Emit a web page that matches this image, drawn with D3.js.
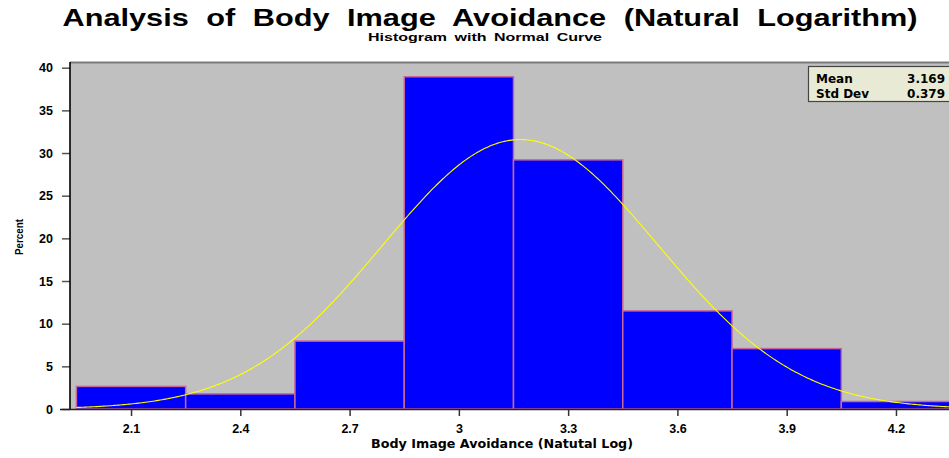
<!DOCTYPE html>
<html>
<head>
<meta charset="utf-8">
<script src="https://cdn.jsdelivr.net/npm/d3@7"></script>
<style>
  html, body { margin: 0; padding: 0; background: #fff; }
  svg { display: block; }
  text { font-family: "Liberation Sans", Arial, Helvetica, sans-serif; font-weight: bold; fill: #000; }
  .wide { font-family: "DejaVu Sans", "Liberation Sans", sans-serif; }
</style>
</head>
<body>
<svg id="chart" width="949" height="458"></svg>
<script>
// ---- data ----
const binMidpoints = [2.1, 2.4, 2.7, 3.0, 3.3, 3.6, 3.9, 4.2];
const binPercents  = [2.65, 1.77, 7.96, 38.94, 29.20, 11.50, 7.08, 0.88];
const xTickLabels  = ["2.1", "2.4", "2.7", "3", "3.3", "3.6", "3.9", "4.2"];
const yTickValues  = [0, 5, 10, 15, 20, 25, 30, 35, 40];
const statLabels   = ["Mean", "Std Dev"];
const statValues   = ["3.169", "0.379"];
const meanValue = 3.169;
const sdValue = 0.379;
const binWidth = 0.3;

const svg = d3.select("#chart");

// scales
const x = d3.scaleLinear().domain([1.95, 4.35]).range([76.4, 950.6]);
const y = d3.scaleLinear().domain([0, 40]).range([409, 67.7]);

const frameLeft = 70, frameTop = 62, frameRight = 960, frameBottom = 409;

// plot background
svg.append("rect")
  .attr("x", frameLeft).attr("y", frameTop)
  .attr("width", frameRight - frameLeft).attr("height", frameBottom - frameTop)
  .attr("fill", "#c0c0c0");

// top frame line
svg.append("line")
  .attr("x1", frameLeft).attr("x2", frameRight)
  .attr("y1", frameTop + 0.5).attr("y2", frameTop + 0.5)
  .attr("stroke", "#7a7a7a").attr("stroke-width", 2);

// bars
svg.append("g").selectAll("rect")
  .data(binMidpoints)
  .join("rect")
  .attr("x", (d) => x(d - binWidth / 2))
  .attr("width", (d) => x(d + binWidth / 2) - x(d - binWidth / 2))
  .attr("y", (d, i) => y(binPercents[i]))
  .attr("height", (d, i) => y(0) - y(binPercents[i]))
  .attr("fill", "#0000ff")
  .attr("stroke", "#c8689a")
  .attr("stroke-width", 1.5);

// normal curve
const curvePts = d3.range(1.95, 4.5, 0.005).map(v => {
  const z = (v - meanValue) / sdValue;
  const pct = 100 * binWidth * Math.exp(-0.5 * z * z) / (sdValue * Math.sqrt(2 * Math.PI));
  return [v, pct];
});
svg.append("path")
  .datum(curvePts)
  .attr("fill", "none")
  .attr("stroke", "#ffff00")
  .attr("stroke-width", 1.1)
  .attr("d", d3.line().x(d => x(d[0])).y(d => y(d[1])));

// y axis
const yAxis = d3.axisLeft(y).tickValues(yTickValues).tickSize(8).tickPadding(9).tickFormat(d3.format("d"));
const yg = svg.append("g").attr("transform", `translate(${frameLeft},0)`).call(yAxis);
yg.select(".domain").remove();
yg.selectAll(".tick line").attr("stroke", "#555").attr("stroke-width", 1.5);
yg.selectAll(".tick text").attr("font-size", 12.5).attr("font-weight", "bold")
  .attr("font-family", "DejaVu Sans, sans-serif").attr("fill", "#000");
svg.append("line")
  .attr("x1", frameLeft).attr("x2", frameLeft)
  .attr("y1", frameTop).attr("y2", frameBottom)
  .attr("stroke", "#000").attr("stroke-width", 1.6);

// x axis
const xAxis = d3.axisBottom(x).tickValues(binMidpoints).tickSize(7).tickPadding(8)
  .tickFormat((d, i) => xTickLabels[i]);
const xg = svg.append("g").attr("transform", `translate(0,${frameBottom})`).call(xAxis);
xg.select(".domain").remove();
xg.selectAll(".tick line").attr("stroke", "#333").attr("stroke-width", 1.5);
xg.selectAll(".tick text").attr("font-size", 12.5).attr("font-weight", "bold")
  .attr("font-family", "DejaVu Sans, sans-serif").attr("fill", "#000");
svg.append("line")
  .attr("x1", 60).attr("x2", 949)
  .attr("y1", frameBottom + 0.5).attr("y2", frameBottom + 0.5)
  .attr("stroke", "#222").attr("stroke-width", 1.6);

// axis titles
svg.append("text")
  .attr("class", "wide")
  .attr("x", 502).attr("y", 448)
  .attr("text-anchor", "middle").attr("font-size", 12)
  .attr("textLength", 262).attr("lengthAdjust", "spacingAndGlyphs")
  .text("Body Image Avoidance (Natutal Log)");
svg.append("text")
  .attr("transform", "translate(23,237) rotate(-90)")
  .attr("text-anchor", "middle").attr("font-size", 11.5)
  .attr("textLength", 36).attr("lengthAdjust", "spacingAndGlyphs")
  .text("Percent");

// titles
svg.append("text")
  .attr("x", 490).attr("y", 26)
  .attr("text-anchor", "middle").attr("font-size", 24)
  .style("word-spacing", "7px")
  .attr("textLength", 855).attr("lengthAdjust", "spacingAndGlyphs")
  .text("Analysis of Body Image Avoidance (Natural Logarithm)");
svg.append("text")
  .attr("x", 485).attr("y", 41)
  .attr("text-anchor", "middle").attr("font-size", 10.5)
  .style("word-spacing", "2px")
  .attr("textLength", 234).attr("lengthAdjust", "spacingAndGlyphs")
  .text("Histogram with Normal Curve");

// stats inset box
const box = svg.append("g");
box.append("rect")
  .attr("x", 808.5).attr("y", 66.5).attr("width", 160).attr("height", 35)
  .attr("fill", "#e9ead5").attr("stroke", "#444").attr("stroke-width", 1.2);
statLabels.forEach((lab, i) => {
  box.append("text").attr("class", "wide").attr("x", 816).attr("y", 83 + i * 15)
    .attr("font-size", 12).text(lab);
  box.append("text").attr("class", "wide").attr("x", 945).attr("y", 83 + i * 15)
    .attr("font-size", 12).attr("text-anchor", "end").text(statValues[i]);
});
</script>
</body>
</html>
